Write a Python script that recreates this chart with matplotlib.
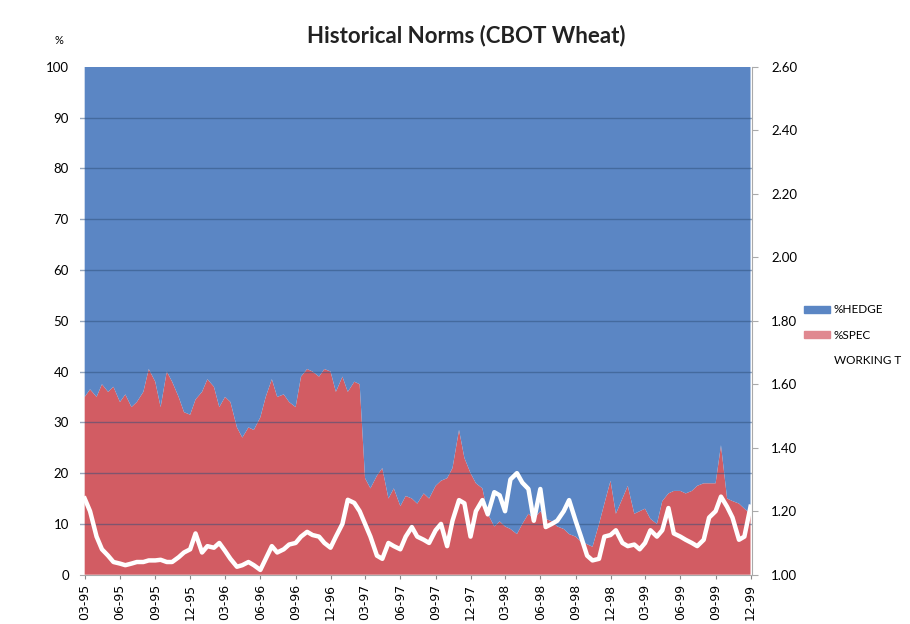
import pandas as pd
import numpy as np
import matplotlib
matplotlib.use("Agg")
from matplotlib import pyplot as plt
from matplotlib.lines import Line2D
from matplotlib.patches import Patch

plt.rcParams['font.family'] = ['Lato', 'DejaVu Sans']

# semi-monthly observations, Mar 1995 .. Dec 1999
dates = pd.date_range('1995-03-01', '1999-12-01', freq='SMS')

spec = [35, 36.5, 35, 37.5, 36, 37, 34, 35.5, 33, 34,
        36, 40.5, 38, 33, 40, 38, 35, 32, 31.5, 34.5,
        36, 38.5, 37, 33, 35, 34, 29, 27, 29, 28.5,
        31, 35, 38.5, 35, 35.5, 34, 33, 39, 40.5, 40,
        39, 40.5, 40, 36, 39, 36, 38, 37.5, 19, 17,
        19.5, 21, 15, 17, 13.5, 15.5, 15, 14, 16, 15,
        17.5, 18.5, 19, 21, 28.5, 23, 20, 18, 17, 12,
        9.5, 10.5, 9.5, 9, 8, 10, 12, 11, 12.5, 11,
        10.5, 9.5, 9, 8, 7.5, 6.5, 6, 5.5, 10, 14,
        18.5, 12, 15, 17.5, 12, 12.5, 13, 11, 10, 14.5,
        16, 16.5, 16.5, 16, 16.5, 17.5, 18, 18, 18, 25.5,
        15, 14.5, 14, 13, 12]
hedge = [100 - s for s in spec]

working_t = [1.24, 1.20, 1.12, 1.08, 1.06, 1.04, 1.035, 1.03, 1.035, 1.04,
             1.04, 1.045, 1.045, 1.047, 1.04, 1.04, 1.055, 1.07, 1.08, 1.13,
             1.07, 1.09, 1.085, 1.10, 1.075, 1.05, 1.025, 1.03, 1.04, 1.03,
             1.015, 1.05, 1.09, 1.07, 1.08, 1.095, 1.10, 1.12, 1.135, 1.125,
             1.12, 1.10, 1.085, 1.12, 1.16, 1.236, 1.226, 1.20, 1.16, 1.12,
             1.06, 1.05, 1.10, 1.09, 1.08, 1.12, 1.15, 1.12, 1.11, 1.10,
             1.14, 1.16, 1.09, 1.17, 1.235, 1.225, 1.12, 1.20, 1.235, 1.19,
             1.26, 1.25, 1.20, 1.30, 1.32, 1.29, 1.27, 1.17, 1.27, 1.15,
             1.16, 1.17, 1.20, 1.235, 1.17, 1.12, 1.06, 1.045, 1.05, 1.12,
             1.125, 1.14, 1.10, 1.09, 1.095, 1.08, 1.10, 1.14, 1.12, 1.14,
             1.21, 1.13, 1.12, 1.11, 1.10, 1.09, 1.11, 1.18, 1.20, 1.246,
             1.214, 1.18, 1.11, 1.12, 1.214]

tick_dates = pd.date_range('1995-03-01', '1999-12-01', freq='3MS')
tick_labels = [d.strftime('%m-%y') for d in tick_dates]

blue = '#5B86C4'
red = '#D25C63'

fig = plt.figure(figsize=(9.1, 6.24), dpi=100)
ax = fig.add_axes([0.088, 0.079, 0.738, 0.814])

ax.stackplot(dates, spec, hedge, colors=[red, blue], linewidth=0)
ax.set_ylim(0, 100)
ax.set_xlim(dates[0] - pd.Timedelta(days=12), dates[-1] + pd.Timedelta(days=3))
ax.set_yticks(range(0, 101, 10))
ax.tick_params(axis='y', length=0, labelsize=9.5, pad=8)
for v in range(10, 100, 10):
    ax.axhline(v, color='#2F4F7A', lw=1.0, alpha=0.5, zorder=3)

ax.set_xticks(tick_dates)
ax.set_xticklabels(tick_labels, rotation=90, fontsize=9, family='DejaVu Sans')
ax.tick_params(axis='x', length=3, color='#888888')
for s in ['top', 'right', 'left']:
    ax.spines[s].set_visible(False)
ax.spines['bottom'].set_color('#aaaaaa')

ax2 = ax.twinx()
ax2.plot(dates, working_t, color='white', lw=3.2, solid_joinstyle='round')
ax2.set_ylim(1.0, 2.6)
ax2.set_yticks(np.arange(1.0, 2.61, 0.2))
ax2.set_yticklabels(['%.2f' % v for v in np.arange(1.0, 2.61, 0.2)], fontsize=9.5)
ax2.tick_params(axis='y', length=4, color='#aaaaaa', pad=10)
for s in ['top', 'left', 'bottom']:
    ax2.spines[s].set_visible(False)
ax2.spines['right'].set_color('#aaaaaa')

fig.text(0.512, 0.943, 'Historical Norms (CBOT Wheat)', ha='center', va='center',
         fontsize=16, fontweight='bold', color='#222222')
fig.text(0.065, 0.935, '%', ha='center', va='center', fontsize=8)

handles = [Patch(color=blue), Patch(color='#E08890'), Line2D([], [], color='white', lw=3)]
fig.legend(handles, ['%HEDGE', '%SPEC', 'WORKING T'], loc='center left',
           bbox_to_anchor=(0.884, 0.463), frameon=False, fontsize=8.5,
           handlelength=2.2, handleheight=0.5, handletextpad=0.3,
           labelspacing=1.2, borderaxespad=0, borderpad=0)

fig.savefig('out.png', dpi=100)
